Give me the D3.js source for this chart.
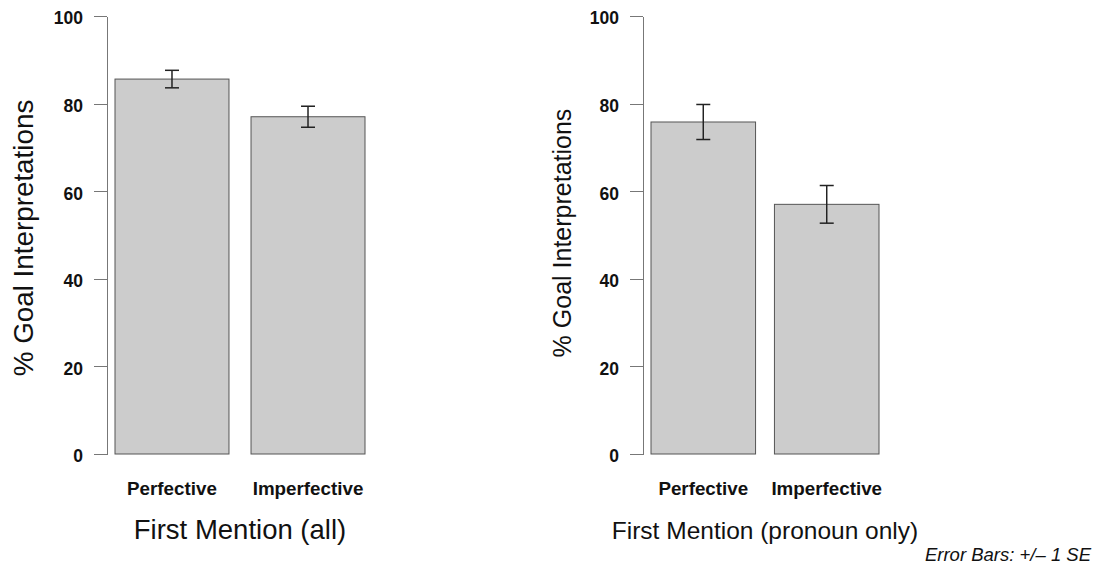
<!DOCTYPE html>
<html>
<head>
<meta charset="utf-8">
<script src="https://cdn.jsdelivr.net/npm/d3@7"></script>
<style>
  body { margin: 0; background: #fff; }
  text { font-family: "Liberation Sans", Arial, Helvetica, sans-serif; fill: #111; }
</style>
</head>
<body>
<div id="chart"></div>
<script>
var conditions = ["Perfective", "Imperfective"];
var allMeans = [85.6, 77.0];
var allSE = [2.0, 2.4];
var pronounMeans = [75.8, 57.0];
var pronounSE = [4.0, 4.3];
var yTicks = [0, 20, 40, 60, 80, 100];

var width = 1105,
    height = 570;

var svg = d3.select("#chart")
    .append("svg")
    .attr("width", width)
    .attr("height", height);

/* same y scale for both panels */
var y = d3.scaleLinear()
    .domain([0, 100])
    .range([454, 16]);

var drawPanel = function(means, ses, opts) {

    var x = d3.scaleBand()
        .domain(conditions)
        .range([opts.x0, opts.x1])
        .paddingInner(opts.pad)
        .paddingOuter(0);

    var g = svg.append("g");

    /* y axis */
    var axis = g.append("g")
        .attr("transform", "translate(" + opts.axisX + ",0)")
        .call(d3.axisLeft(y)
            .tickValues(yTicks)
            .tickSizeInner(13)
            .tickSizeOuter(0)
            .tickPadding(11));
    axis.selectAll("path, line").attr("stroke", "#777").attr("shape-rendering", "crispEdges");
    axis.selectAll("text")
        .attr("font-size", 17.5)
        .attr("font-weight", "bold")
        .attr("font-family", "Liberation Sans, Arial, sans-serif")
        .attr("fill", "#111")
        .attr("dy", "0.45em");

    /* bars */
    g.selectAll("rect.bar")
        .data(means)
        .enter().append("rect")
        .attr("class", "bar")
        .attr("x", function(d, i) { return x(conditions[i]); })
        .attr("y", function(d) { return y(d); })
        .attr("width", x.bandwidth())
        .attr("height", function(d) { return y(0) - y(d); })
        .attr("fill", "#cccccc")
        .attr("stroke", "#555")
        .attr("stroke-width", 1);

    /* error bars */
    var err = g.selectAll("g.err")
        .data(means)
        .enter().append("g")
        .attr("class", "err")
        .attr("stroke", "#222")
        .attr("stroke-width", 1.5);
    var cx = function(i) { return x(conditions[i]) + x.bandwidth() / 2; };
    err.append("line")
        .attr("x1", function(d, i) { return cx(i); })
        .attr("x2", function(d, i) { return cx(i); })
        .attr("y1", function(d, i) { return y(d + ses[i]); })
        .attr("y2", function(d, i) { return y(d - ses[i]); });
    [1, -1].forEach(function(s) {
        err.append("line")
            .attr("x1", function(d, i) { return cx(i) - 7; })
            .attr("x2", function(d, i) { return cx(i) + 7; })
            .attr("y1", function(d, i) { return y(d + s * ses[i]); })
            .attr("y2", function(d, i) { return y(d + s * ses[i]); });
    });

    /* category labels */
    g.selectAll("text.cat")
        .data(conditions)
        .enter().append("text")
        .attr("class", "cat")
        .attr("x", function(d) { return x(d) + x.bandwidth() / 2; })
        .attr("y", 495)
        .attr("text-anchor", "middle")
        .attr("font-size", 18.8)
        .attr("font-weight", "bold")
        .text(function(d) { return d; });

    /* x title */
    g.append("text")
        .attr("x", (opts.x0 + opts.x1) / 2)
        .attr("y", 539)
        .attr("text-anchor", "middle")
        .attr("font-size", opts.xTitleSize)
        .text(opts.xTitle);

    /* y title */
    g.append("text")
        .attr("transform", "translate(" + opts.yTitleX + "," + opts.yTitleY + ") rotate(-90)")
        .attr("text-anchor", "middle")
        .attr("font-size", opts.yTitleSize)
        .text("% Goal Interpretations");
}

drawPanel(allMeans, allSE, {
    x0: 115, x1: 365, pad: 0.162, axisX: 107,
    xTitle: "First Mention (all)", xTitleSize: 27.5,
    yTitleX: 33, yTitleY: 238, yTitleSize: 27.8
});

drawPanel(pronounMeans, pronounSE, {
    x0: 651, x1: 879, pad: 0.153, axisX: 643,
    xTitle: "First Mention (pronoun only)", xTitleSize: 24.5,
    yTitleX: 571, yTitleY: 233, yTitleSize: 25
});

svg.append("text")
    .attr("x", 1091)
    .attr("y", 561)
    .attr("text-anchor", "end")
    .attr("font-size", 18.5)
    .attr("font-style", "italic")
    .text("Error Bars: +/\u2013 1 SE");
</script>
</body>
</html>
